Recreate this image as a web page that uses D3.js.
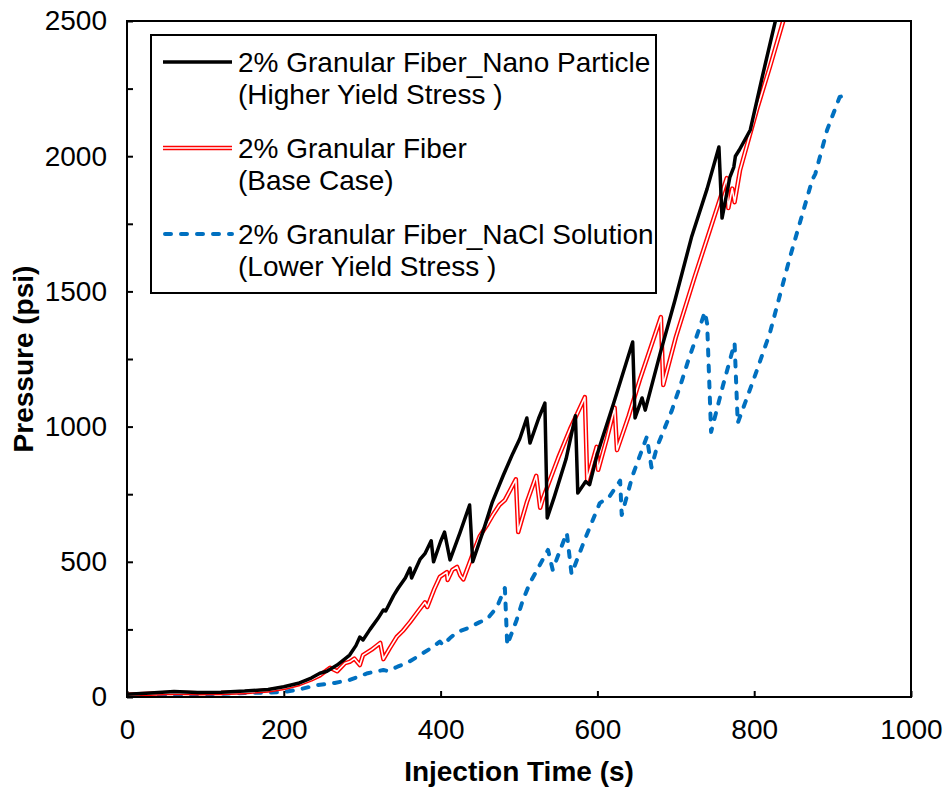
<!DOCTYPE html>
<html>
<head>
<meta charset="utf-8">
<script src="https://cdn.jsdelivr.net/npm/d3@7"></script>
<style>
  body { margin: 0; background: #fff; }
  svg text { font-family: "Liberation Sans", Arial, sans-serif; fill: #000; }
</style>
</head>
<body>
<div id="chart"></div>
<script>
// injection time (s), pressure (psi)
var nanoParticle = [[0,10],[30,15],[60,20],[90,17],[120,18],[150,22],[180,28],[200,38],[220,52],[235,70],[246,88],[255,95],[268,118],[284,155],[292,190],[297,222],[301,211],[310,250],[320,290],[327,322],[330,318],[340,375],[346,403],[355,440],[361,477],[363,440],[374,510],[380,530],[388,578],[391,500],[400,575],[405,610],[412,507],[425,610],[437,710],[441,500],[455,620],[466,721],[480,820],[492,900],[501,955],[510,1032],[514,939],[525,1030],[533,1087],[536,662],[545,740],[560,880],[572,1040],[575,754],[585,797],[590,785],[600,900],[620,1080],[645,1313],[648,1032],[657,1106],[661,1061],[680,1270],[699,1468],[720,1700],[740,1880],[755,2034],[759,1771],[769,1923],[774,1960],[776,2000],[781,2023],[795,2097],[810,2290],[827,2500],[835,2600]];

var baseCase = [[0,8],[30,12],[60,16],[90,14],[120,15],[150,18],[180,24],[200,33],[220,48],[235,65],[246,80],[259,108],[268,95],[278,125],[284,130],[290,142],[297,118],[301,155],[312,175],[323,200],[327,140],[335,180],[344,222],[352,245],[361,277],[372,320],[380,350],[383,333],[392,400],[399,444],[408,462],[409,433],[415,470],[421,481],[425,450],[429,435],[440,520],[450,595],[460,640],[467,675],[475,710],[482,728],[496,805],[499,610],[510,720],[522,818],[527,700],[531,738],[550,884],[565,990],[584,1109],[587,802],[599,925],[601,840],[612,955],[622,1070],[625,913],[640,1040],[654,1172],[670,1310],[681,1405],[684,1154],[700,1330],[724,1553],[745,1740],[765,1919],[767,1808],[772,1880],[775,1830],[782,1949],[804,2178],[820,2330],[837,2500],[845,2590]];

var naclSolution = [[0,5],[50,8],[100,10],[157,15],[199,18],[220,28],[242,44],[265,52],[284,63],[307,88],[327,100],[333,96],[345,112],[357,126],[370,148],[378,163],[390,185],[399,205],[403,192],[412,218],[421,240],[435,255],[450,277],[460,290],[472,333],[482,403],[485,192],[497,285],[505,359],[514,422],[525,480],[537,544],[543,470],[552,540],[561,607],[567,455],[585,590],[603,717],[615,740],[629,800],[631,673],[645,820],[663,962],[669,849],[676,925],[695,1060],[708,1172],[716,1246],[725,1320],[737,1424],[740,1380],[745,980],[760,1150],[775,1309],[779,1013],[800,1180],[820,1346],[845,1620],[874,1912],[878,1935],[893,2097],[909,2219],[912,2222]];

var xTicks = [0, 200, 400, 600, 800, 1000];
var yTicks = [0, 250, 500, 750, 1000, 1250, 1500, 1750, 2000, 2250, 2500];

var legendLabels = [
  ["2% Granular Fiber_Nano Particle", "(Higher Yield Stress )"],
  ["2% Granular Fiber", "(Base Case)"],
  ["2% Granular Fiber_NaCl Solution", "(Lower Yield Stress )"]
];

var width = 947, height = 788;
var margin = {top: 21, right: 36, bottom: 91, left: 127};

var svg = d3.select("#chart").append("svg")
    .attr("width", width)
    .attr("height", height);

var x = d3.scaleLinear().domain([0, 1000]).range([margin.left, width - margin.right]);
var y = d3.scaleLinear().domain([0, 2500]).range([height - margin.bottom, margin.top]);

svg.append("clipPath").attr("id", "plot-clip")
  .append("rect")
    .attr("x", x(0)).attr("y", y(2500))
    .attr("width", x(1000) - x(0)).attr("height", y(0) - y(2500));

var line = d3.line()
    .x(function(d) { return x(d[0]); })
    .y(function(d) { return y(d[1]); });

var plot = svg.append("g").attr("clip-path", "url(#plot-clip)");

// blue dashed
plot.append("path")
    .datum(naclSolution)
    .attr("d", line)
    .attr("fill", "none")
    .attr("stroke", "#0070C0")
    .attr("stroke-width", 4)
    .attr("stroke-linecap", "round")
    .attr("stroke-linejoin", "round")
    .attr("stroke-dasharray", "6,10");

// red double line
plot.append("path")
    .datum(baseCase)
    .attr("d", line)
    .attr("fill", "none")
    .attr("stroke", "#FF0000")
    .attr("stroke-width", 4.5)
    .attr("stroke-linejoin", "round");
plot.append("path")
    .datum(baseCase)
    .attr("d", line)
    .attr("fill", "none")
    .attr("stroke", "#fff")
    .attr("stroke-width", 1.6)
    .attr("stroke-linejoin", "round");

// black
plot.append("path")
    .datum(nanoParticle)
    .attr("d", line)
    .attr("fill", "none")
    .attr("stroke", "#000")
    .attr("stroke-width", 3.5)
    .attr("stroke-linejoin", "round");

// axes
var xAxis = d3.axisBottom(x)
    .tickValues(xTicks)
    .tickSizeInner(-6)
    .tickSizeOuter(0)
    .tickPadding(22)
    .tickFormat(function(d) { return String(d); });

var yAxis = d3.axisLeft(y)
    .tickValues(yTicks)
    .tickSizeInner(-6)
    .tickSizeOuter(0)
    .tickPadding(20)
    .tickFormat(function(d) { return d % 500 === 0 ? String(d) : ""; });

var gx = svg.append("g")
    .attr("transform", "translate(0," + y(0) + ")")
    .call(xAxis);
var gy = svg.append("g")
    .attr("transform", "translate(" + x(0) + ",0)")
    .call(yAxis);

[gx, gy].forEach(function(g) {
  g.select(".domain").remove();
  g.selectAll(".tick line").attr("stroke", "#000").attr("stroke-width", 2);
  g.selectAll(".tick text")
    .style("font-family", '"Liberation Sans", Arial, sans-serif')
    .style("font-size", "28px")
    .attr("fill", "#000");
});

// frame
svg.append("rect")
    .attr("x", x(0)).attr("y", y(2500))
    .attr("width", x(1000) - x(0)).attr("height", y(0) - y(2500))
    .attr("fill", "none")
    .attr("stroke", "#000")
    .attr("stroke-width", 2);

// axis titles
svg.append("text")
    .attr("x", (x(0) + x(1000)) / 2)
    .attr("y", 781)
    .attr("text-anchor", "middle")
    .style("font-size", "28px")
    .style("font-weight", "bold")
    .text("Injection Time (s)");

svg.append("text")
    .attr("transform", "translate(33," + (y(0) + y(2500)) / 2 + ") rotate(-90)")
    .attr("text-anchor", "middle")
    .style("font-size", "28px")
    .style("font-weight", "bold")
    .text("Pressure (psi)");

// legend
var legend = svg.append("g");
legend.append("rect")
    .attr("x", 151).attr("y", 35)
    .attr("width", 505).attr("height", 258)
    .attr("fill", "#fff")
    .attr("stroke", "#000")
    .attr("stroke-width", 2);

var legendY = [62, 148, 234];

legend.append("line")
    .attr("x1", 163).attr("x2", 232).attr("y1", legendY[0]).attr("y2", legendY[0])
    .attr("stroke", "#000").attr("stroke-width", 3.5);
legend.append("line")
    .attr("x1", 163).attr("x2", 232).attr("y1", legendY[1]).attr("y2", legendY[1])
    .attr("stroke", "#FF0000").attr("stroke-width", 4.5);
legend.append("line")
    .attr("x1", 163).attr("x2", 232).attr("y1", legendY[1]).attr("y2", legendY[1])
    .attr("stroke", "#fff").attr("stroke-width", 1.6);
legend.append("line")
    .attr("x1", 165).attr("x2", 232).attr("y1", legendY[2]).attr("y2", legendY[2])
    .attr("stroke", "#0070C0").attr("stroke-width", 4)
    .attr("stroke-linecap", "round")
    .attr("stroke-dasharray", "6,10");

legendLabels.forEach(function(lbl, i) {
  var t = legend.append("text")
      .attr("x", 238)
      .attr("y", legendY[i] + 10)
      .style("font-size", "28px");
  t.append("tspan").attr("x", 238).text(lbl[0]);
  t.append("tspan").attr("x", 238).attr("dy", 32).text(lbl[1]);
});
</script>
</body>
</html>
